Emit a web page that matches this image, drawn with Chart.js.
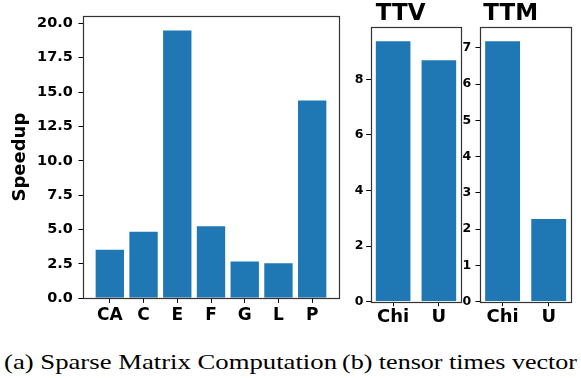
<!DOCTYPE html>
<html><head><meta charset="utf-8">
<script src="https://cdn.jsdelivr.net/npm/chart.js@4.4.1/dist/chart.umd.min.js"></script>
<style>
html,body{margin:0;padding:0;background:#fff;width:581px;height:378px;overflow:hidden;position:relative}
.box{position:absolute;top:0;height:335px}
.box canvas{display:block}
.cap{position:absolute;top:352px;font-family:"Liberation Serif",serif;font-size:21px;line-height:21px;white-space:nowrap;transform-origin:0 0;color:#000}
</style></head><body>
<div class="box" style="left:0;width:345px"><canvas id="cA" width="345" height="335"></canvas></div>
<div class="box" style="left:340px;width:130px"><canvas id="cB" width="130" height="335"></canvas></div>
<div class="box" style="left:450px;width:131px"><canvas id="cC" width="131" height="335"></canvas></div>
<span class="cap" id="capA" data-l="4" data-r="337">(a) Sparse Matrix Computation</span>
<span class="cap" id="capB" data-l="342" data-r="577">(b) tensor times vector</span>
<script>
// ---- data ----
const catsA = ['CA', 'C', 'E', 'F', 'G', 'L', 'P'];
const speedupA = [3.6, 4.92, 19.55, 5.31, 2.74, 2.62, 14.45];
const ticksA = [0, 2.5, 5, 7.5, 10, 12.5, 15, 17.5, 20];

const catsB = ['Chi', 'U'];
const ttvVals = [9.40, 8.72];
const ticksB = [0, 2, 4, 6, 8];

const catsC = ['Chi', 'U'];
const ttmVals = [7.21, 2.31];
const ticksC = [0, 1, 2, 3, 4, 5, 6, 7];

Chart.defaults.font.family = 'DejaVu Sans';
Chart.defaults.color = '#000';

const framePlugin = {
  id: 'frame',
  afterDatasetsDraw(chart) {
    const a = chart.chartArea, ctx = chart.ctx;
    ctx.save();
    ctx.strokeStyle = '#333';
    ctx.lineWidth = 1.2;
    ctx.strokeRect(Math.round(a.left) + 0.5, Math.round(a.top) + 0.5,
      Math.round(a.right) - Math.round(a.left), Math.round(a.bottom) - Math.round(a.top));
    ctx.restore();
  }
};

function makeChart(id, cats, vals, yTicks, o) {
  const n = cats.length;
  const margin = ((n - 1) + o.bw) * 0.05;
  return new Chart(document.getElementById(id), {
    type: 'bar',
    data: {
      datasets: [{
        data: vals.map((v, i) => ({ x: i, y: v })),
        backgroundColor: '#1f77b4',
        borderColor: 'rgba(255,255,255,0.45)',
        borderWidth: 1,
        barPercentage: o.bw,
        categoryPercentage: 1
      }]
    },
    plugins: [framePlugin],
    options: {
      responsive: false,
      animation: false,
      devicePixelRatio: 1,
      layout: { padding: { top: o.pt, right: o.pr, left: 0, bottom: 0 } },
      plugins: {
        legend: { display: false },
        tooltip: { enabled: false },
        title: o.title ? {
          display: true, text: o.title, color: '#000',
          font: { size: 23, weight: 'bold', lineHeight: 1 },
          padding: { top: 2.3, bottom: 2.0 }
        } : { display: false }
      },
      scales: {
        x: {
          type: 'linear',
          offset: false,
          min: -o.bw / 2 - margin,
          max: (n - 1) + o.bw / 2 + margin,
          afterBuildTicks: s => { s.ticks = cats.map((c, i) => ({ value: i })); },
          afterFit: s => { s.height = o.xh; },
          ticks: {
            autoSkip: false, maxRotation: 0, padding: o.xp,
            font: { size: o.xf, weight: 'bold' },
            callback: v => cats[v]
          },
          grid: { display: true, offset: false, drawOnChartArea: false, drawTicks: true, tickLength: 4.5, tickColor: '#000', tickWidth: 1 },
          border: { display: false }
        },
        y: {
          type: 'linear',
          min: 0,
          max: Math.max(...vals) * 1.05,
          afterBuildTicks: s => { s.ticks = yTicks.map(v => ({ value: v })); },
          afterFit: s => { s.width = o.yw; },
          ticks: {
            padding: o.yp,
            font: { size: o.yf, weight: 'bold' },
            callback: v => o.fmt(v)
          },
          grid: { display: true, drawOnChartArea: false, drawTicks: true, tickLength: 4.5, tickColor: '#000', tickWidth: 1 },
          border: { display: false },
          title: o.ytitle ? {
            display: true, text: o.ytitle, color: '#000',
            font: { size: 18, weight: 'bold' },
            padding: { top: 9.2, bottom: 0 }
          } : { display: false }
        }
      }
    }
  });
}

makeChart('cA', catsA, speedupA, ticksA, {
  bw: 0.9, pt: 16, pr: 6, yw: 83, xh: 36.7, xp: 2.8, xf: 17, yp: 5.6, yf: 14.5,
  fmt: v => v.toFixed(1), ytitle: 'Speedup'
});
makeChart('cB', catsB, ttvVals, ticksB, {
  bw: 0.8, pt: 0, pr: 8.7, yw: 30.7, xh: 33.3, xp: 0, xf: 18, yp: 2.7, yf: 12.5,
  fmt: v => String(v), title: 'TTV'
});
makeChart('cC', catsC, ttmVals, ticksC, {
  bw: 0.8, pt: 0, pr: 9.7, yw: 30, xh: 33.3, xp: 0, xf: 18, yp: 4.3, yf: 12.5,
  fmt: v => String(v), title: 'TTM'
});

function fitCaps() {
  document.querySelectorAll('.cap').forEach(el => {
    const l = +el.dataset.l, r = +el.dataset.r;
    el.style.left = l + 'px';
    el.style.transform = 'none';
    const w = el.getBoundingClientRect().width;
    el.style.transform = 'scaleX(' + ((r - l) / w) + ')';
  });
}
fitCaps();
if (document.fonts && document.fonts.ready) document.fonts.ready.then(fitCaps);
</script>
</body></html>
